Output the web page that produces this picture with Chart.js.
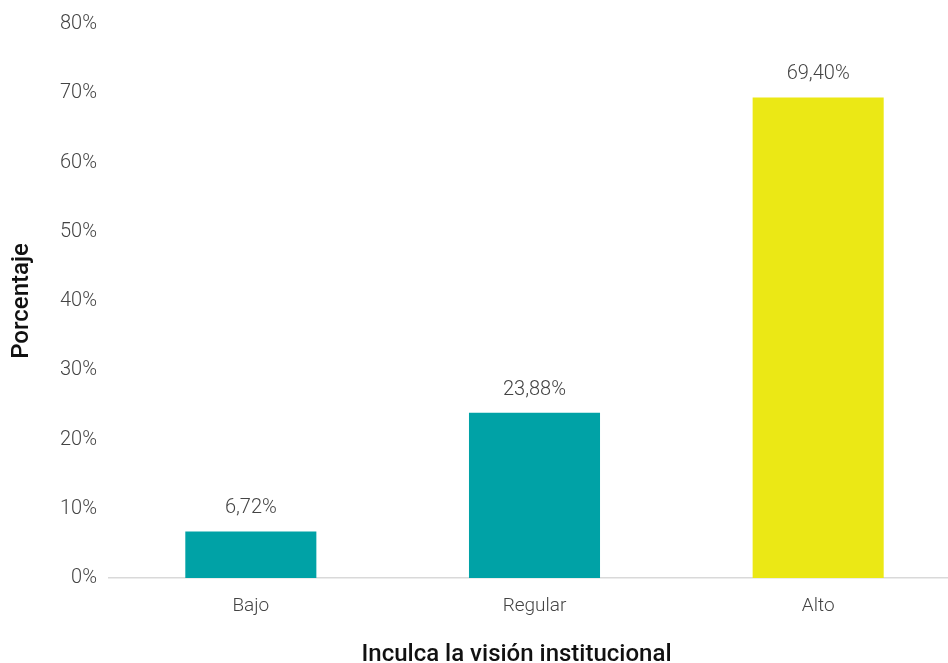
<!DOCTYPE html>
<html>
<head>
<meta charset="utf-8">
<script src="https://cdn.jsdelivr.net/npm/chart.js@4"></script>
<style>
  html, body { margin: 0; padding: 0; background: #fff; overflow: hidden; }
  #wrap { width: 960px; height: 663px; }
</style>
</head>
<body>
<div id="wrap"><canvas id="visionChart"></canvas></div>
<script>
const categories = ["Bajo", "Regular", "Alto"];
const percentages = [6.72, 23.88, 69.40];
const barColors = ["#00a2a6", "#00a2a6", "#ebe815"];
const yTicks = [0, 10, 20, 30, 40, 50, 60, 70, 80];
const xTitle = "Inculca la visión institucional";

const fmt = (v) => v.toFixed(2).replace(".", ",") + "%";

// writes the value above each bar, plus the category axis title
const valueLabels = {
    id: "valueLabels",
    afterDatasetsDraw(chart) {
        const ctx = chart.ctx;
        const meta = chart.getDatasetMeta(0);
        const area = chart.chartArea;
        ctx.save();
        ctx.font = "300 20px Roboto";
        ctx.fillStyle = "#444";
        ctx.textAlign = "center";
        ctx.textBaseline = "bottom";
        meta.data.forEach((bar, i) => {
            ctx.fillText(fmt(percentages[i]), bar.x, bar.y - 13);
        });
        ctx.font = "500 24px Roboto";
        ctx.fillStyle = "#111";
        ctx.textBaseline = "middle";
        ctx.fillText(xTitle, (area.left + area.right) / 2 - 18, area.bottom + 77);
        ctx.restore();
    }
};

new Chart(document.getElementById("visionChart"), {
    type: "bar",
    data: {
        labels: categories,
        datasets: [{
            data: percentages,
            backgroundColor: barColors,
            barPercentage: 0.462,
            categoryPercentage: 1
        }]
    },
    options: {
        responsive: true,
        maintainAspectRatio: false,
        animation: false,
        layout: { padding: { top: 10, right: 0, bottom: 0, left: 0 } },
        plugins: {
            legend: { display: false },
            tooltip: { enabled: false }
        },
        scales: {
            x: {
                grid: { display: false, drawTicks: false },
                border: { display: true, color: "#d9d9d9", width: 1.5 },
                ticks: {
                    color: "#444",
                    font: { family: "Roboto", size: 19, weight: 300 },
                    padding: 17
                },
                afterFit(scale) { scale.height = 85; }
            },
            y: {
                min: 0,
                max: 80,
                afterBuildTicks(scale) {
                    scale.ticks = yTicks.map((v) => ({ value: v }));
                },
                grid: { display: false, drawTicks: false },
                border: { display: false },
                ticks: {
                    color: "#444",
                    font: { family: "Roboto", size: 20, weight: 300 },
                    padding: 12,
                    callback: (v) => v + "%"
                },
                title: {
                    display: true,
                    text: "Porcentaje",
                    color: "#111",
                    font: { family: "Roboto", size: 24, weight: 500 },
                    padding: { top: 8, bottom: 0 }
                },
                afterFit(scale) { scale.width = 109; }
            }
        }
    },
    plugins: [valueLabels]
});
</script>
</body>
</html>
